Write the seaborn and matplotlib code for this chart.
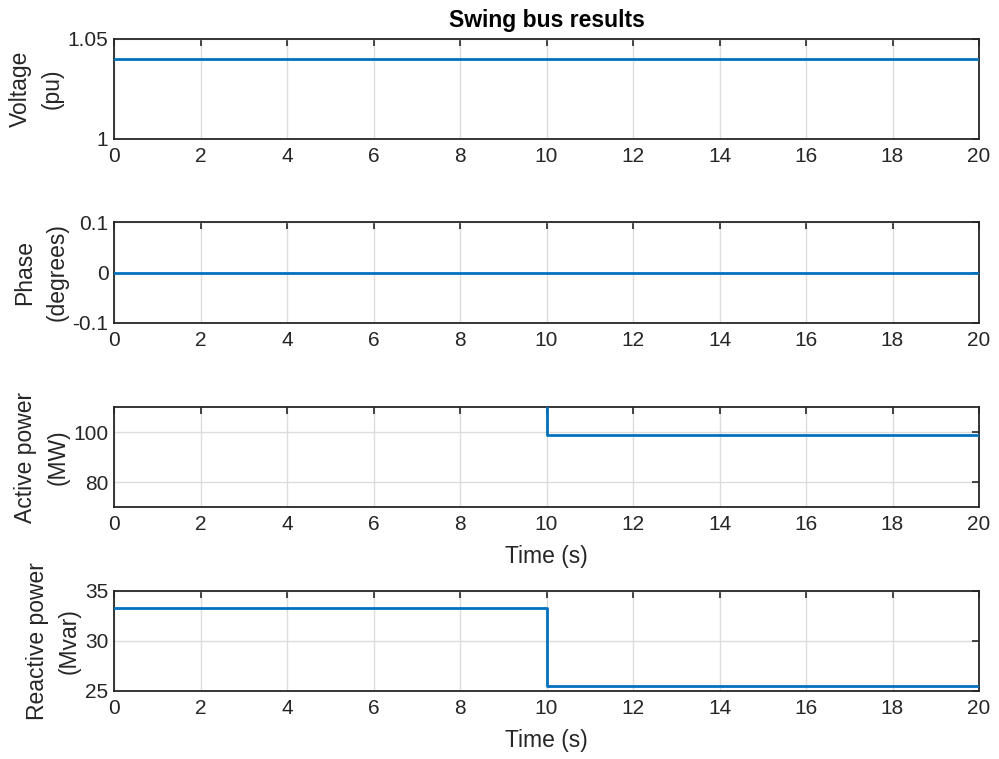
import numpy as np
import pandas as pd
import matplotlib
matplotlib.use("Agg")
import matplotlib.pyplot as plt
import seaborn as sns

# ---- data ----
time_s = [0, 10, 20]
voltage_pu = [1.04, 1.04, 1.04]
phase_deg = [0.0, 0.0, 0.0]
active_mw = [150.0, 99.0, 99.0]
reactive_mvar = [33.3, 25.5, 25.5]

x_ticks = [0, 2, 4, 6, 8, 10, 12, 14, 16, 18, 20]
panels = [
    dict(y=voltage_pu, label="Voltage\n(pu)", ylim=(1, 1.05), yticks=[1, 1.05],
         yticklabels=["1", "1.05"], xlabel=None, title="Swing bus results"),
    dict(y=phase_deg, label="Phase\n(degrees)", ylim=(-0.1, 0.1), yticks=[-0.1, 0, 0.1],
         yticklabels=["-0.1", "0", "0.1"], xlabel=None, title=None),
    dict(y=active_mw, label="Active power\n(MW)", ylim=(70, 110), yticks=[80, 100],
         yticklabels=["80", "100"], xlabel="Time (s)", title=None),
    dict(y=reactive_mvar, label="Reactive power\n(Mvar)", ylim=(25, 35), yticks=[25, 30, 35],
         yticklabels=["25", "30", "35"], xlabel="Time (s)", title=None),
]

sns.set_theme(style="white")
plt.rcParams["font.family"] = ["Liberation Sans", "DejaVu Sans"]

FS = 15
LFS = 16.5
TXT = "#262626"
LINE = "#0072BD"

fig = plt.figure(figsize=(9.99, 7.59), dpi=100)
W = 999.0
H = 759.0
left_px, right_px = 114, 979
tops_bottoms = [(39, 139), (222, 323), (407, 507), (591, 691)]

for p, (top, bot) in zip(panels, tops_bottoms):
    ax = fig.add_axes([left_px / W, 1 - bot / H, (right_px - left_px) / W, (bot - top) / H])
    df = pd.DataFrame({"t": time_s, "v": p["y"]})
    sns.lineplot(data=df, x="t", y="v", ax=ax, color=LINE, linewidth=2.0,
                 drawstyle="steps-post", estimator=None, sort=False, zorder=3)
    ax.set_xlim(0, 20)
    ax.set_ylim(*p["ylim"])
    ax.set_xticks(x_ticks)
    ax.set_xticklabels([str(v) for v in x_ticks])
    ax.set_yticks(p["yticks"])
    ax.set_yticklabels(p["yticklabels"])
    ax.grid(True, color="#dcdcdc", linewidth=1.0, zorder=0)
    ax.set_axisbelow(True)
    ax.tick_params(direction="in", top=True, right=True, length=5, width=1.2,
                   colors=TXT, labelsize=FS, pad=4)
    ax.tick_params(axis="x", pad=6)
    for s in ax.spines.values():
        s.set_color(TXT)
        s.set_linewidth(1.3)
    ax.set_ylabel(p["label"], fontsize=LFS, color=TXT, labelpad=3, linespacing=1.5)
    if p["xlabel"]:
        ax.set_xlabel(p["xlabel"], fontsize=LFS, color=TXT, labelpad=8)
    else:
        ax.set_xlabel("")
    if p["title"]:
        ax.set_title(p["title"], fontsize=LFS, fontweight="bold", color="black", pad=9)

fig.savefig("out.png", dpi=100)
